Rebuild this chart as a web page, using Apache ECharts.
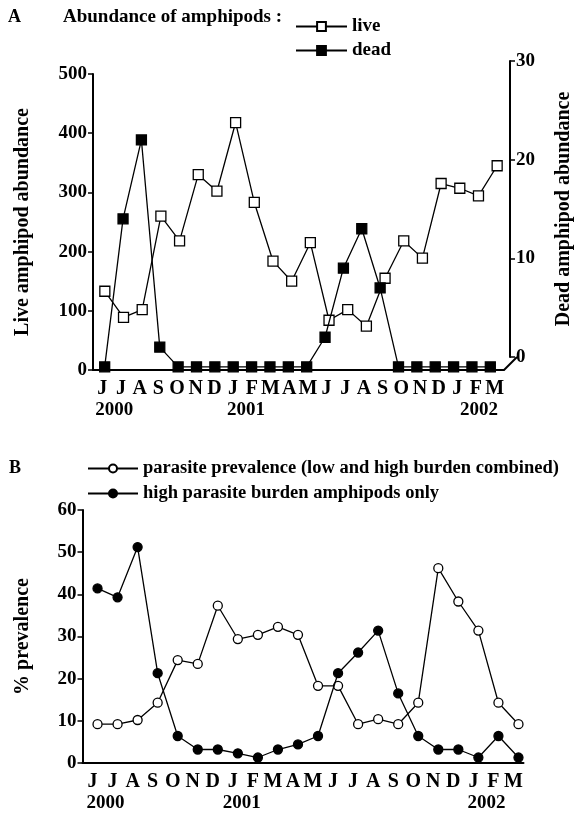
<!DOCTYPE html>
<html>
<head>
<meta charset="utf-8">
<script src="https://cdn.jsdelivr.net/npm/echarts@6/dist/echarts.min.js"></script>
<style>
html, body { margin: 0; padding: 0; background: #fff; }
#main { width: 582px; height: 818px; }
</style>
</head>
<body>
<div id="main"></div>
<script>
// months June 2000 - March 2002
var months = ['J', 'J', 'A', 'S', 'O', 'N', 'D', 'J', 'F', 'M', 'A', 'M', 'J', 'J', 'A', 'S', 'O', 'N', 'D', 'J', 'F', 'M'];
var years = ['2000', '2001', '2002'];
var yearIdxA = [0, 7, 20];
var yearIdxB = [0, 7, 19];

// panel A
var liveAbundance = [133, 89, 102, 260, 218, 330, 302, 418, 283, 184, 150, 215, 84, 102, 74, 155, 218, 189, 315, 307, 294, 345];
// zeros sit just under the right axis origin in the source figure
var deadAbundance = [-1, 14, 22, 1, -1, -1, -1, -1, -1, -1, -1, -1, 2, 9, 13, 7, -1, -1, -1, -1, -1, -1];
var liveTicks = [0, 100, 200, 300, 400, 500];
var deadTicks = [0, 10, 20, 30];

// panel B
var prevalenceAll = [9.2, 9.2, 10.2, 14.3, 24.4, 23.5, 37.3, 29.4, 30.4, 32.3, 30.4, 18.3, 18.3, 9.2, 10.4, 9.2, 14.3, 46.2, 38.3, 31.4, 14.3, 9.2];
var prevalenceHigh = [41.4, 39.3, 51.2, 21.3, 6.4, 3.2, 3.2, 2.3, 1.3, 3.2, 4.4, 6.4, 21.3, 26.2, 31.4, 16.5, 6.4, 3.2, 3.2, 1.3, 6.4, 1.3];
var prevTicks = [0, 10, 20, 30, 40, 50, 60];

var FONT = "'Liberation Serif', 'Times New Roman', serif";

// layout
var A = {left: 93, width: 411, top: 74, height: 296, shift: 2.5, deadTop: 61, rightAxisX: 517};
var B = {left: 82.5, width: 441, top: 510, height: 253, shift: 5};
var yearShiftA = [12, 13, 3];
var yearShiftB = [13, 9, 13];

function yearList(idx) {
	var list = [];
	for (var i = 0; i < months.length; i++) {
		var k = idx.indexOf(i);
		list.push(k >= 0 ? years[k] : '');
	}
	return list;
}

function yearRich(shift) {
	var rich = {};
	for (var k = 0; k < shift.length; k++) {
		rich['y' + k] = {
			fontFamily: FONT, fontWeight: 'bold', fontSize: 19, color: '#000',
			padding: [0, 0, 0, shift[k] * 2]
		};
	}
	return rich;
}

function yearAxis(gridIndex, shift) {
	return {
		gridIndex: gridIndex, type: 'category', position: 'bottom',
		data: yearList(gridIndex == 0 ? yearIdxA : yearIdxB),
		axisLine: {show: false}, axisTick: {show: false},
		axisLabel: {
			interval: 0, margin: 31,
			formatter: function(v) {
				var k = years.indexOf(v);
				return k >= 0 ? '{y' + k + '|' + v + '}' : '';
			},
			rich: yearRich(shift)
		}
	};
}

function monthAxis(gridIndex) {
	return {
		gridIndex: gridIndex, type: 'category', data: months, boundaryGap: true,
		axisLine: {lineStyle: {color: '#000', width: 2}},
		axisTick: {alignWithLabel: true, length: 5, lineStyle: {color: '#000', width: 1.5}},
		axisLabel: {interval: 0, margin: 9, color: '#000', fontFamily: FONT, fontWeight: 'bold', fontSize: 20},
		splitLine: {show: false}
	};
}

function hiddenX(gridIndex) {
	return {gridIndex: gridIndex, type: 'category', data: months, boundaryGap: true, show: false};
}

function valueAxis(gridIndex, ticks, opts) {
	var axis = {
		gridIndex: gridIndex, type: 'value',
		min: ticks[0], max: ticks[ticks.length - 1], interval: ticks[1] - ticks[0],
		axisLine: {show: true, lineStyle: {color: '#000', width: 2}},
		axisTick: {show: true, length: 5, lineStyle: {color: '#000', width: 1.5}},
		axisLabel: {color: '#000', fontFamily: FONT, fontWeight: 'bold', fontSize: 19, margin: 6},
		splitLine: {show: false},
		nameLocation: 'middle',
		nameTextStyle: {color: '#000', fontFamily: FONT, fontWeight: 'bold', fontSize: 20}
	};
	for (var key in opts) {
		axis[key] = opts[key];
	}
	return axis;
}

function lineSeries(name, data, xi, yi, symbol, filled, size) {
	return {
		name: name, type: 'line', data: data,
		xAxisIndex: xi, yAxisIndex: yi,
		symbol: symbol, symbolSize: size, showAllSymbol: true,
		clip: false,
		lineStyle: {color: '#000', width: 1.3},
		itemStyle: {color: filled ? '#000' : '#fff', borderColor: '#000', borderWidth: 1.3},
		z: filled ? 4 : 3
	};
}

function legendText(size) {
	return {color: '#000', fontFamily: FONT, fontWeight: 'bold', fontSize: size};
}

var option = {
	backgroundColor: '#fff',
	animation: false,
	title: [
		{text: 'A', left: 8, top: 8, padding: 0, textStyle: {fontFamily: FONT, fontWeight: 'bold', fontSize: 18, color: '#000'}},
		{text: 'Abundance of amphipods :', left: 63, top: 8, padding: 0, textStyle: {fontFamily: FONT, fontWeight: 'bold', fontSize: 19, color: '#000'}},
		{text: 'B', left: 9, top: 459, padding: 0, textStyle: {fontFamily: FONT, fontWeight: 'bold', fontSize: 18, color: '#000'}}
	],
	legend: [
		{
			data: ['live', 'dead'], orient: 'vertical', left: 295, top: 17, padding: 0,
			itemWidth: 51, itemHeight: 11, itemGap: 5, textStyle: legendText(19)
		},
		{
			data: ['parasite prevalence (low and high burden combined)', 'high parasite burden amphipods only'],
			orient: 'vertical', left: 87, top: 459, padding: 0,
			itemWidth: 50, itemHeight: 10, itemGap: 6, textStyle: legendText(18.5)
		}
	],
	grid: [
		{left: A.left, width: A.width, top: A.top, height: A.height},
		{left: A.left + A.shift, width: A.width, top: A.top, height: A.height},
		{left: A.left + A.shift, width: A.width, top: A.deadTop, height: A.top + A.height - A.deadTop - 13},
		{left: B.left, width: B.width, top: B.top, height: B.height},
		{left: B.left + B.shift, width: B.width, top: B.top, height: B.height}
	],
	xAxis: [
		monthAxis(0),
		yearAxis(0, yearShiftA),
		hiddenX(1),
		hiddenX(2),
		monthAxis(3),
		yearAxis(3, yearShiftB),
		hiddenX(4)
	],
	yAxis: [
		valueAxis(0, liveTicks, {position: 'left', name: 'Live amphipod abundance', nameGap: 60}),
		{gridIndex: 1, type: 'value', min: liveTicks[0], max: liveTicks[liveTicks.length - 1], show: false},
		valueAxis(2, deadTicks, {
			position: 'right',
			offset: A.rightAxisX - (A.left + A.shift + A.width),
			name: 'Dead amphipod abundance', nameGap: 44, nameRotate: 90
		}),
		valueAxis(3, prevTicks, {position: 'left', name: '% prevalence', nameGap: 50}),
		{gridIndex: 4, type: 'value', min: prevTicks[0], max: prevTicks[prevTicks.length - 1], show: false}
	],
	series: [
		lineSeries('live', liveAbundance, 2, 1, 'rect', false, 10),
		lineSeries('dead', deadAbundance, 3, 2, 'rect', true, 10),
		lineSeries('parasite prevalence (low and high burden combined)', prevalenceAll, 6, 4, 'circle', false, 9),
		lineSeries('high parasite burden amphipods only', prevalenceHigh, 6, 4, 'circle', true, 9)
	]
};

var myChart = echarts.init(document.getElementById('main'));
myChart.setOption(option);

// short slanted stroke joining the bottom axis to the raised right axis
var cornerX = A.left + A.width;
var cornerY = A.top + A.height;
var zeroY = myChart.convertToPixel({yAxisIndex: 2}, 0);
myChart.setOption({
	graphic: [{
		type: 'line',
		shape: {x1: cornerX, y1: cornerY, x2: A.rightAxisX, y2: zeroY},
		style: {stroke: '#000', lineWidth: 2}
	}]
});
</script>
</body>
</html>
